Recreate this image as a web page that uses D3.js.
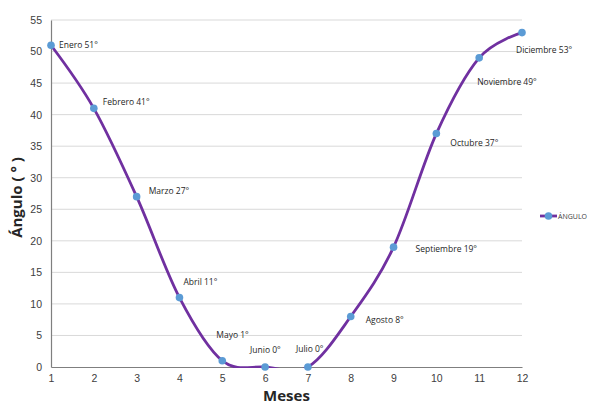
<!DOCTYPE html>
<html>
<head>
<meta charset="utf-8">
<script src="https://cdn.jsdelivr.net/npm/d3@7"></script>
<style>
  body { margin: 0; background: #fff; }
  svg { font-family: "Open Sans", "Liberation Sans", sans-serif; }
</style>
</head>
<body>
<div id="chart"></div>
<script>
// data
const months = [1, 2, 3, 4, 5, 6, 7, 8, 9, 10, 11, 12];
const monthNames = ["Enero", "Febrero", "Marzo", "Abril", "Mayo", "Junio", "Julio", "Agosto", "Septiembre", "Octubre", "Noviembre", "Diciembre"];
const angles = [51, 41, 27, 11, 1, 0, 0, 8, 19, 37, 49, 53];
const yTicks = [0, 5, 10, 15, 20, 25, 30, 35, 40, 45, 50, 55];

// label offsets in px (layout only)
const labelOffsets = [[8, 0], [9, -6], [12, -6], [4, -16], [-6, -26], [-15, -17], [-12, -18], [15, 3], [22, 2], [14, 9], [-2, 24], [-6, 17]];

let width = 589, height = 407;
let margin = { top: 20, right: 67, bottom: 40, left: 51 };

let svg = d3.select("#chart")
    .append("svg")
    .attr("width", width)
    .attr("height", height);

const x = d3.scaleLinear()
    .domain([1, 12])
    .range([margin.left, width - margin.right]);

const y = d3.scaleLinear()
    .domain([0, 55])
    .range([height - margin.bottom, margin.top]);

// plot area clip (like the spreadsheet does)
svg.append("defs").append("clipPath")
    .attr("id", "plotclip")
    .append("rect")
    .attr("x", x(1) - 10)
    .attr("y", y(55) - 10)
    .attr("width", x(12) - x(1) + 20)
    .attr("height", y(0) - y(55) + 11);

// gridlines
svg.append("g")
    .selectAll("line")
    .data(yTicks.filter(d => d > 0))
    .join("line")
    .attr("x1", x(1))
    .attr("x2", x(12))
    .attr("y1", d => y(d))
    .attr("y2", d => y(d))
    .attr("stroke", "#d9d9d9")
    .attr("stroke-width", 1);

// y axis
let yAxis = svg.append("g")
    .attr("transform", "translate(" + x(1) + ",0)")
    .call(d3.axisLeft(y).tickValues(yTicks).tickSize(0).tickPadding(9));
yAxis.select(".domain").attr("stroke", "#7f7f7f").attr("stroke-width", 1.2);
yAxis.selectAll("text").style("font-size", "10.5px").attr("fill", "#404040");

// x axis
let xAxis = svg.append("g")
    .attr("transform", "translate(0," + y(0) + ")")
    .call(d3.axisBottom(x).tickValues(months).tickFormat(d3.format("d")).tickSize(0).tickPadding(8));
xAxis.select(".domain").attr("stroke", "#7f7f7f").attr("stroke-width", 1.2);
xAxis.selectAll("text").style("font-size", "10.5px").attr("fill", "#404040");

// axis titles
svg.append("text")
    .attr("transform", "translate(22," + (y(27.5) + 4) + ") rotate(-90)")
    .attr("text-anchor", "middle")
    .style("font-size", "15px")
    .style("font-weight", "bold")
    .attr("fill", "#262626")
    .text("Ángulo ( ° )");

svg.append("text")
    .attr("x", (x(1) + x(12)) / 2)
    .attr("y", 401)
    .attr("text-anchor", "middle")
    .style("font-size", "15px")
    .style("font-weight", "bold")
    .attr("fill", "#262626")
    .text("Meses");

// line
const points = months.map((m, i) => ({ m: m, v: angles[i], name: monthNames[i], off: labelOffsets[i] }));

const line = d3.line()
    .x(d => x(d.m))
    .y(d => y(d.v))
    .curve(d3.curveCardinal.tension(0));

svg.append("path")
    .datum(points)
    .attr("d", line)
    .attr("clip-path", "url(#plotclip)")
    .attr("fill", "none")
    .attr("stroke", "#7030a0")
    .attr("stroke-width", 2.8);

svg.selectAll(".pt")
    .data(points)
    .join("circle")
    .attr("class", "pt")
    .attr("cx", d => x(d.m))
    .attr("cy", d => y(d.v))
    .attr("r", 3.8)
    .attr("fill", "#5b9bd5");

// data labels
svg.selectAll(".lbl")
    .data(points)
    .join("text")
    .attr("class", "lbl")
    .attr("x", d => x(d.m) + d.off[0])
    .attr("y", d => y(d.v) + d.off[1] + 3)
    .style("font-size", "8.5px")
    .attr("fill", "#262626")
    .text(d => d.name + " " + d.v + "°");

// legend
let legend = svg.append("g").attr("transform", "translate(540,216)");
legend.append("line")
    .attr("x1", 0).attr("x2", 17)
    .attr("stroke", "#7030a0").attr("stroke-width", 2.8);
legend.append("circle")
    .attr("cx", 8.5).attr("r", 3.8)
    .attr("fill", "#5b9bd5");
legend.append("text")
    .attr("x", 18).attr("y", 2.5)
    .style("font-size", "7px")
    .attr("fill", "#404040")
    .text("ÁNGULO");
</script>
</body>
</html>
